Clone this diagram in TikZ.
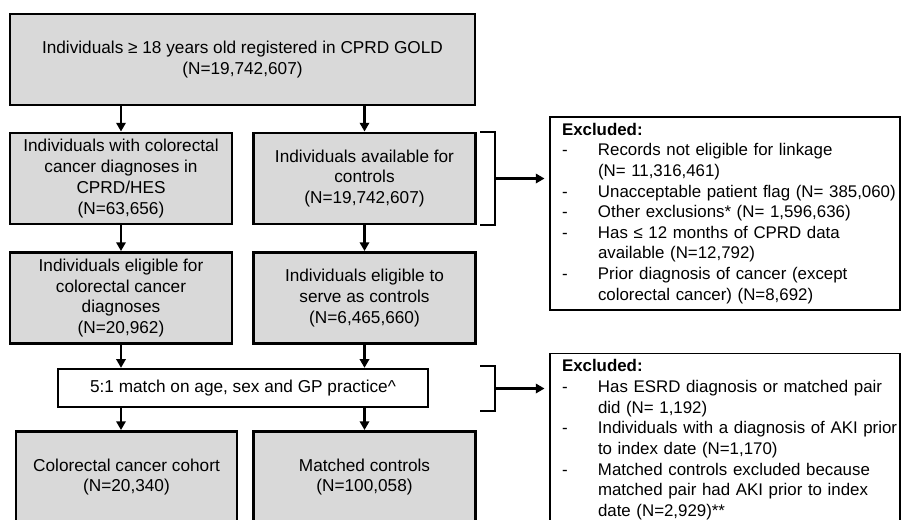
\documentclass[tikz,border=0pt]{standalone}
\usepackage{fontspec}
\setmainfont{Liberation Sans}
\usetikzlibrary{arrows.meta}
\definecolor{boxgray}{RGB}{217,217,217}

\begin{document}
\begin{tikzpicture}[
    x=0.03cm, y=-0.03cm,
    line width=2.5pt,
    >={Triangle[length=7.5pt,width=8pt]},
    font=\fontsize{14.7}{17.8}\selectfont,
    stepbox/.style={draw, fill=boxgray, align=center, inner sep=2pt,
        minimum width=6.66cm, minimum height=2.73cm},
    exclbox/.style={draw, line width=1.3pt, fill=white, align=left,
        font=\fontsize{14.4}{17.6}\selectfont,
        text width=9.78cm, inner xsep=0.36cm, minimum height=#1},
    flow/.style={->}
]

    % Geometry (pixel grid of the reference, y downwards)
    \def\xL{121}
    \def\xR{364.5}

    \useasboundingbox (0,0) rectangle (901,519);
    \clip (0,0) rectangle (901,519);

    % Main boxes
    \node[stepbox, minimum width=13.95cm] (source) at (242.5,59.5)
        {Individuals ≥ 18 years old registered in CPRD GOLD\\(N=19,742,607)};

    \node[stepbox] (cases) at (\xL,178.5)
        {Individuals with colorectal\\cancer diagnoses in\\CPRD/HES\\(N=63,656)};
    \node[stepbox] (pool) at (\xR,178.5)
        {Individuals available for\\controls\\(N=19,742,607)};

    \node[stepbox] (casesok) at (\xL,298)
        {Individuals eligible for\\colorectal cancer\\diagnoses\\(N=20,962)};
    \node[stepbox] (poolok) at (\xR,298)
        {Individuals eligible to\\serve as controls\\(N=6,465,660)};

    \node[draw, line width=2pt, fill=white, minimum width=11.1cm, minimum height=1.14cm] (match) at (243,388)
        {5:1 match on age, sex and GP practice\^{}};

    \node[stepbox, minimum width=6.63cm] (cohort) at (126.5,477)
        {Colorectal cancer cohort\\(N=20,340)};
    \node[stepbox] (controls) at (\xR,477)
        {Matched controls\\(N=100,058)};

    % Exclusion boxes
    \node[exclbox=5.79cm] (excl1) at (725,213.5) {%
        \begin{tabular}{@{}p{1.08cm}@{}l@{}}
        \multicolumn{2}{@{}l@{}}{\textbf{Excluded:}}\\
        - & Records not eligible for linkage\\
          & (N= 11,316,461)\\
        - & Unacceptable patient flag (N= 385,060)\\
        - & Other exclusions* (N= 1,596,636)\\
        - & Has ≤ 12 months of CPRD data\\
          & available (N=12,792)\\
        - & Prior diagnosis of cancer (except\\
          & colorectal cancer) (N=8,692)
        \end{tabular}};

    \node[exclbox=5.04cm] (excl2) at (725,440) {%
        \begin{tabular}{@{}p{1.08cm}@{}l@{}}
        \multicolumn{2}{@{}l@{}}{\textbf{Excluded:}}\\
        - & Has ESRD diagnosis or matched pair\\
          & did (N= 1,192)\\
        - & Individuals with a diagnosis of AKI prior\\
          & to index date (N=1,170)\\
        - & Matched controls excluded because\\
          & matched pair had AKI prior to index\\
          & date (N=2,929)**
        \end{tabular}};

    % Vertical flow arrows
    \draw[flow] (source.south -| cases) -- (cases.north);
    \draw[flow] (source.south -| pool) -- (pool.north);
    \draw[flow] (cases) -- (casesok);
    \draw[flow] (pool) -- (poolok);
    \draw[flow] (casesok.south) -- (casesok.south |- match.north);
    \draw[flow] (poolok.south) -- (poolok.south |- match.north);
    \draw[flow] (casesok.south |- match.south) -- (casesok.south |- cohort.north);
    \draw[flow] (poolok.south |- match.south) -- (controls.north);

    % Brackets to the exclusions
    \coordinate (brk1) at (495,178.5);
    \coordinate (brk2) at (495,388.5);
    \draw (480,132) -- (495,132) -- (495,225) -- (480,225);
    \draw (480,366) -- (495,366) -- (495,411) -- (480,411);
    \draw[flow, shorten >=4pt] (brk1) -- (brk1 -| excl1.west);
    \draw[flow, shorten >=4pt] (brk2) -- (brk2 -| excl2.west);

\end{tikzpicture}
\end{document}
